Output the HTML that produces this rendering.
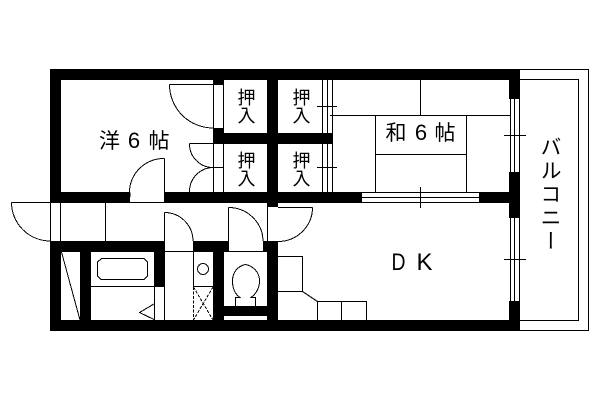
<!DOCTYPE html>
<html><head><meta charset="utf-8">
<style>
html,body{margin:0;padding:0;background:#fff;width:600px;height:400px;overflow:hidden}
svg{position:absolute;left:0;top:0}
text{font-family:"Liberation Sans","Noto Sans CJK JP",sans-serif;fill:#000;text-anchor:middle}
</style></head><body>
<svg width="600" height="400" viewBox="0 0 600 400">
<g fill="#000" shape-rendering="crispEdges">
<rect x="50" y="69" width="470" height="11"/>
<rect x="50" y="320" width="470" height="11"/>
<rect x="50" y="69" width="11" height="134"/>
<rect x="50" y="241" width="11" height="90"/>
<rect x="509" y="69" width="11" height="30"/>
<rect x="509" y="172" width="11" height="46"/>
<rect x="509" y="301" width="11" height="30"/>
<rect x="50" y="192" width="80" height="11"/>
<rect x="164" y="192" width="198" height="11"/>
<rect x="479" y="192" width="30" height="11"/>
<rect x="50" y="241" width="115" height="11"/>
<rect x="193" y="241" width="36" height="11"/>
<rect x="263" y="241" width="15" height="11"/>
<rect x="213" y="80" width="11" height="5"/>
<rect x="213" y="128" width="11" height="16"/>
<rect x="213" y="133" width="120" height="11"/>
<rect x="267" y="69" width="11" height="138"/>
<rect x="267" y="241" width="11" height="90"/>
<rect x="80" y="241" width="11" height="90"/>
<rect x="154" y="241" width="11" height="46"/>
<rect x="213" y="241" width="11" height="90"/>
<rect x="223" y="306" width="45" height="10"/>
</g>
<g fill="none" stroke="#000" stroke-width="1" shape-rendering="crispEdges">
<!-- balcony -->
<path d="M520 69.500H588.500V330.500H520M520 79.500H578.500V320.500H520"/>
<!-- windows -->
<path d="M362 192.500H479M362 197.500H479M362 202.500H479M420.500 187V208"/>
<path d="M510.500 99V172M514.500 99V172M519.500 99V172M504 135.500H526"/>
<path d="M510.500 218V301M514.500 218V301M519.500 218V301M504 259.500H526"/>
<!-- closet sliding lines -->
<path d="M322.500 80V133M327.500 80V133M332.500 80V133M317 106.500H337"/>
<path d="M322.500 144V192M327.500 144V192M332.500 144V192M317 167.500H337"/>
<path d="M213.500 85V128M223.500 85V128M213.500 144V192M223.500 144V192M210 167.500H223"/>
<!-- tatami -->
<path d="M330 115.500H511M420.500 80V115M375.500 115V192M466.500 115V192M375 154.500H466"/>
<!-- doors -->
<path d="M169.500 84.500H213M169.500 84.500A43.500 43.500 0 0 0 213 128"/>
<path d="M189.500 143.500H213M189.500 143.500A23.500 23.500 0 0 0 213 167.500A24 24 0 0 0 189.500 192"/>
<path d="M130 192.500V197M164.500 158.500V192M164.500 158.500A34.500 34 0 0 0 129.500 192M130 202.500H164"/>
<!-- entrance -->
<path d="M11.500 202.500H50.500M11.500 202.500A39 38.500 0 0 0 50.500 241M50.500 203V241M60.500 203V241M105.500 203V241"/>
<path d="M164.500 212.500V241M164.500 212.500A28.500 28.500 0 0 1 193 241M165 251.500H193"/>
<path d="M228.500 207.500V241M228.500 207.500A34.500 34 0 0 1 263 241M229 251.500H263"/>
<path d="M267.500 207V241M278 207.500H312.500M312.500 207.500A34.500 34 0 0 1 278 241.500"/>
<!-- closet diagonal -->
<path d="M61.500 252L80 320"/>
<!-- bath -->
<path d="M101.500 258.500H144L147.500 262V276L144 279.500H101L97.500 276V262Z"/>
<path d="M91 286.500H154M154.500 287V320M164.500 252V320M154 304L139.500 312.500L154 319.500"/>
<!-- washroom -->
<path d="M193.500 252V287M193 286.500H213"/>
<circle cx="203" cy="269" r="5.500"/>
<path d="M193.500 287V320M193.500 287L213 320M213 287L193.500 320" stroke-dasharray="3 1.500"/>
<!-- toilet -->
<path d="M235.500 306V297.500H240C235 294 232.500 288 232.500 281C232.500 272 238 266 245.500 264.500C253 266 259.500 272 259.500 281C259.500 288 256 294 251 297.500H255.500V306"/>
<!-- kitchen -->
<path d="M278 256.500H302.500V291.500H278M302.500 291.500L317.500 301.500M317.500 301.500H366.500V320M317.500 301.500V320M341.500 301.500V320"/>
</g>
<g font-size="21">
<text x="109.500" y="148">洋</text><text x="159" y="148">帖</text>
<text x="396" y="140">和</text><text x="445" y="140">帖</text>
</g>
<g font-size="22">
<text x="134" y="148">6</text><text x="421" y="140">6</text>
</g>
<g font-size="18">
<text x="246.500" y="104">押</text><text x="246.500" y="122">入</text>
<text x="301.500" y="104">押</text><text x="301.500" y="122">入</text>
<text x="246.500" y="167">押</text><text x="246.500" y="185">入</text>
<text x="301.500" y="167">押</text><text x="301.500" y="185">入</text>
</g>
<g font-size="24">
<text x="398.500" y="270" textLength="14" lengthAdjust="spacingAndGlyphs">D</text>
<text x="424.500" y="270" textLength="16" lengthAdjust="spacingAndGlyphs">K</text>
</g>
</svg>
<div style='position:absolute;left:537px;top:136px;font:21px/24px "Liberation Sans","Noto Sans CJK JP",sans-serif;writing-mode:vertical-rl;letter-spacing:2.5px;color:#000;white-space:nowrap'>バルコニー</div>
</body></html>
